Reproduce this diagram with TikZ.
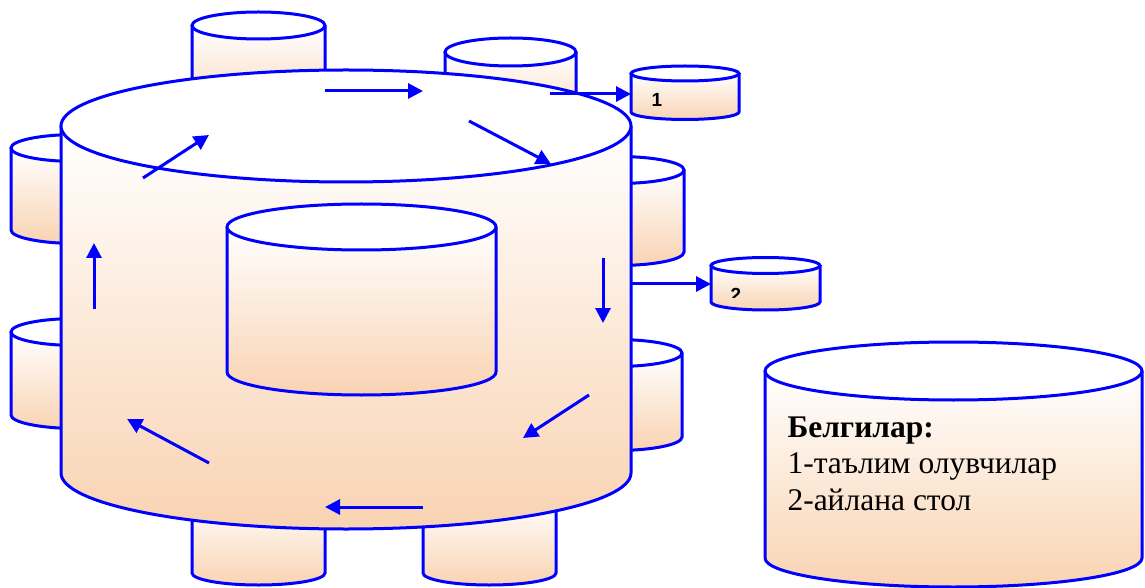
\documentclass[tikz,border=0pt]{standalone}
\usepackage{fontspec}
\setmainfont{Liberation Serif}
\newfontfamily\digitfont{Liberation Sans}
\usetikzlibrary{arrows.meta}
\definecolor{peach}{RGB}{249,211,178}
\definecolor{rim}{RGB}{0,0,255}

\begin{document}
\begin{tikzpicture}
	[x=1pt,y=1pt,line width=3,
	 flow/.style={rim,line width=3,-{Triangle[length=15pt,width=15pt]}}]

\useasboundingbox (0,0) rectangle (1145,587);

% chairs, table, centre, then the two small ones and the legend
	\foreach \cx/\ty/\by/\rx/\ry in {258.5/561.5/477/66.5/13.5, 510.5/535/467/65.5/14,
	 77/439/357/66/13.5, 77/255/172/66/13.5, 618/417/335/66/13.5, 616/234/150/66/13.5,
	 258.5/87/14/66.5/12, 489.5/87/14/66.5/12,
	 346/461/114/285/56, 361.5/360/215/134.5/23,
	 685/513.5/475/54/7.5, 765.5/321.5/285/54.5/8, 953.5/216/29/188.5/29}
	{
	 \shadedraw[draw=rim,top color=white,bottom color=peach] (\cx-\rx,\ty)--(\cx-\rx,\by)
	   arc[start angle=180,end angle=360,x radius=\rx,y radius=\ry]--(\cx+\rx,\ty);
	 \filldraw[draw=rim,fill=white] (\cx,\ty) ellipse[x radius=\rx,y radius=\ry];
	}

% rotation round the table
	\foreach \sx/\sy/\ex/\ey in {325/496/423/496, 469/466/551/423, 603/329/603/264,
	 589/192/523/149, 423/80/325/80, 209/124/127/168, 94/278/94/344, 143/409/209/452}
	{
	 \draw[flow] (\sx,\sy)--(\ex,\ey);
	}

	\coordinate (out1) at (550,493);
	\coordinate (in1) at (631,493);
	\coordinate (out2) at (631,303);
	\coordinate (in2) at (711,303);
	\draw[flow] (out1)--(in1);
	\draw[flow] (out2)--(in2);

	\node[anchor=base,inner sep=0] (lab1) at (657,480) {\digitfont\bfseries\fontsize{19}{19}\selectfont 1};
\begin{scope}
	\clip (711,289) rectangle (820,330);
	\node[anchor=base,inner sep=0] (lab2) at (736,285) {\digitfont\bfseries\fontsize{19}{19}\selectfont 2};
\end{scope}

	\node[anchor=base west,inner sep=0] (leg0) at (786,150) {\fontsize{31.5}{36}\selectfont\bfseries Белгилар:};
	\node[anchor=base west,inner sep=0] (leg1) at (786,114) {\fontsize{31.5}{36}\selectfont 1-таълим олувчилар};
	\node[anchor=base west,inner sep=0] (leg2) at (786,77) {\fontsize{31.5}{36}\selectfont 2-айлана стол};

\end{tikzpicture}
\end{document}
